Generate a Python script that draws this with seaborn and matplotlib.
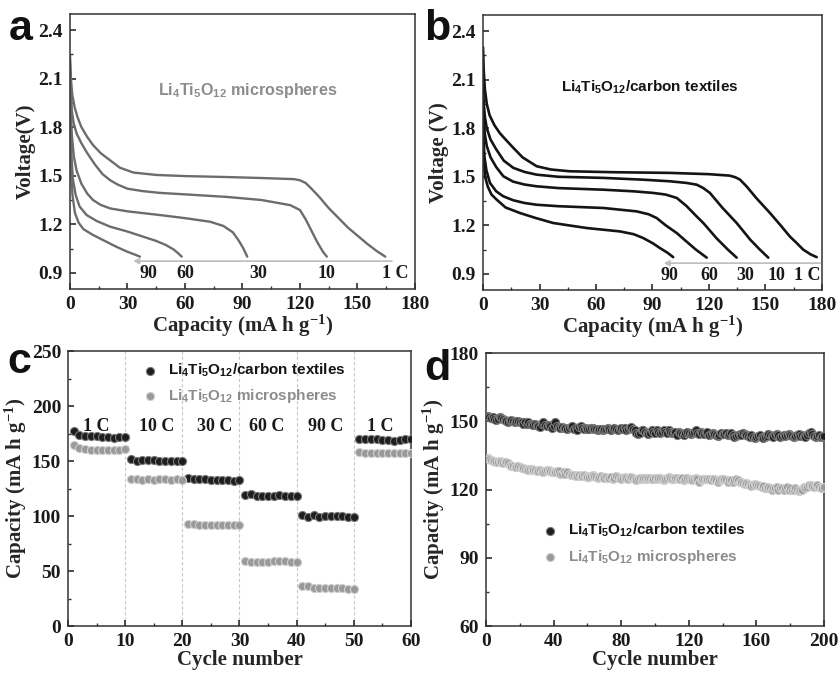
import numpy as np
import pandas as pd
import matplotlib
matplotlib.use("Agg")
import matplotlib.pyplot as plt
from matplotlib.ticker import MultipleLocator
import seaborn as sns

# ---------------- data ----------------
rates = ["1 C", "10 C", "30 C", "60 C", "90 C"]

# Panel a: Li4Ti5O12 microspheres discharge curves
a_cap_1 = [0, 0.5, 1.2, 2.5, 4, 6, 9, 12, 16, 21, 26, 33, 45, 60, 82, 100, 117, 120, 123, 126, 130, 135, 140, 145, 150, 155, 160, 164.5]
a_v_1 = [2.25, 2.10, 2.00, 1.92, 1.86, 1.80, 1.74, 1.69, 1.64, 1.595, 1.55, 1.52, 1.505, 1.498, 1.492, 1.486, 1.479, 1.472, 1.455, 1.42, 1.37, 1.30, 1.24, 1.18, 1.13, 1.08, 1.035, 1.0]
a_cap_10 = [0, 0.5, 1, 2, 3.5, 6, 9, 13, 17, 21, 25, 30, 38, 47, 60, 82, 100, 115, 118, 120, 123, 126, 129, 132, 134]
a_v_10 = [2.2, 2.0, 1.9, 1.82, 1.76, 1.70, 1.64, 1.57, 1.51, 1.472, 1.445, 1.42, 1.405, 1.394, 1.385, 1.369, 1.35, 1.318, 1.30, 1.288, 1.23, 1.16, 1.09, 1.03, 1.0]
a_cap_30 = [0, 0.4, 1, 2, 3.5, 6, 9, 12, 16, 21, 30, 47, 60, 73, 80, 85, 88, 90.5, 92.5]
a_v_30 = [2.1, 1.9, 1.75, 1.62, 1.53, 1.45, 1.39, 1.35, 1.32, 1.298, 1.28, 1.257, 1.238, 1.216, 1.19, 1.15, 1.10, 1.05, 1.0]
a_cap_60 = [0, 0.3, 0.8, 1.5, 3, 5, 8.7, 14, 21, 30, 38, 45, 50, 54, 56.5, 58.3]
a_v_60 = [2.0, 1.8, 1.62, 1.48, 1.38, 1.31, 1.257, 1.22, 1.185, 1.155, 1.124, 1.097, 1.072, 1.045, 1.02, 1.0]
a_cap_90 = [0, 0.3, 0.7, 1.3, 2.6, 4.5, 7, 12, 18, 24, 30, 34, 36.5]
a_v_90 = [1.9, 1.7, 1.52, 1.38, 1.27, 1.21, 1.17, 1.134, 1.098, 1.062, 1.03, 1.012, 1.0]

# Panel b: Li4Ti5O12/carbon textiles discharge curves
b_cap_1 = [0, 0.4, 1, 2, 3.5, 6, 8.9, 12, 16, 21, 28.5, 36, 46, 70, 99, 120, 131, 134, 136.5, 140, 145, 152.4, 158, 163, 166.6, 170, 174, 177.2]
b_v_1 = [2.30, 2.15, 2.04, 1.95, 1.88, 1.82, 1.77, 1.73, 1.68, 1.62, 1.565, 1.545, 1.534, 1.528, 1.524, 1.516, 1.507, 1.497, 1.482, 1.44, 1.37, 1.276, 1.20, 1.13, 1.09, 1.05, 1.02, 1.003]
b_cap_10 = [0, 0.4, 1, 2, 4, 7, 11, 16.1, 22, 28.5, 40, 63.9, 85, 99.3, 108, 113.5, 117, 120.5, 127, 134.7, 142, 147, 151.5]
b_v_10 = [2.08, 1.95, 1.87, 1.80, 1.73, 1.67, 1.60, 1.555, 1.53, 1.513, 1.50, 1.493, 1.482, 1.472, 1.462, 1.451, 1.43, 1.40, 1.31, 1.214, 1.11, 1.05, 1.0]
b_cap_30 = [0, 0.4, 1, 2, 4, 7, 10.8, 16, 22, 28.5, 40, 63.9, 80, 90.4, 97, 102.9, 108, 113, 117, 124, 130, 134.7]
b_v_30 = [1.95, 1.84, 1.76, 1.69, 1.62, 1.56, 1.503, 1.47, 1.452, 1.441, 1.43, 1.42, 1.41, 1.40, 1.39, 1.369, 1.32, 1.26, 1.214, 1.12, 1.05, 1.0]
b_cap_60 = [0, 0.3, 0.8, 1.8, 3.7, 7, 10.8, 16, 22, 28.5, 40, 63.9, 81.6, 88, 92.2, 97, 102.9, 108, 113, 118.8]
b_v_60 = [1.82, 1.72, 1.62, 1.54, 1.462, 1.41, 1.379, 1.355, 1.338, 1.327, 1.318, 1.307, 1.286, 1.268, 1.245, 1.20, 1.152, 1.10, 1.05, 1.0]
b_cap_90 = [0, 0.3, 0.7, 1.06, 2.5, 4.5, 7.3, 12, 19.6, 28, 37.3, 55.1, 72.8, 80, 85.1, 90, 94, 98, 101]
b_v_90 = [1.72, 1.64, 1.56, 1.503, 1.44, 1.39, 1.358, 1.31, 1.276, 1.245, 1.214, 1.183, 1.162, 1.145, 1.121, 1.09, 1.059, 1.03, 1.003]

# end-of-curve rate labels
a_label_text = ["1 C", "10", "30", "60", "90"]
a_label_x = [169.5, 134, 98, 60, 41]
b_label_text = ["1 C", "10", "30", "60", "90"]
b_label_x = [172, 156, 139, 120, 99]

# Panel c: rate capability
c_cycles = list(range(1, 61))
c_textiles = [177, 174, 173, 173, 173, 172, 172, 171, 172, 172,
              152, 150, 151, 151, 151, 150, 150, 150, 150, 150,
              135, 134, 134, 134, 133, 133, 133, 133, 132, 133,
              119, 120, 118, 118, 118, 118, 119, 118, 118, 118,
              101, 99, 101, 99, 100, 100, 100, 100, 99, 99,
              170, 170, 170, 170, 169, 169, 168, 169, 170, 170]
c_micro = [165, 162, 161, 160, 160, 160, 160, 160, 160, 161,
           134, 134, 133, 134, 133, 134, 134, 133, 134, 133,
           93, 93, 92, 92, 92, 92, 92, 92, 92, 92,
           59, 58, 58, 58, 58, 59, 59, 59, 58, 58,
           36, 36, 35, 35, 35, 35, 35, 35, 34, 34,
           158, 157, 157, 157, 157, 157, 157, 157, 157, 157]
c_rate_labels = ["1 C", "10 C", "30 C", "60 C", "90 C", "1 C"]
c_rate_x = [5, 15.5, 25.7, 34.8, 45, 54.7]

# Panel d: cycling at high rate
d_cycles = list(range(1, 201))
d_textiles = [152.5, 152, 151.5, 152, 151, 150.5, 151, 152, 151.5, 151,
              150.5, 150, 149.5, 150, 150.5, 150, 149.5, 150, 150, 149.5,
              149.5, 149, 149.5, 149, 149.5, 149, 149, 148.5, 149, 148.5,
              148, 147.5, 149, 149.5, 148.5, 148, 148.5, 148, 147, 148,
              149.5, 148, 147.5, 147, 147.5, 147, 147, 146.5, 147, 147.5,
              148, 146.5, 147, 146, 147.5, 148, 147, 146.5, 147, 146.5,
              146.5, 147, 147, 146.5, 146.5, 146, 146.5, 146.5, 146, 146.5,
              146.5, 147, 146.5, 146, 146.5, 147, 146.5, 146, 146.5, 147,
              146.5, 147, 146, 146.5, 147, 147.5, 146.5, 146, 145, 144.5,
              145, 146, 146, 145.5, 145, 144.5, 145, 146, 145.5, 145,
              146, 145.5, 145, 145.5, 146, 145.5, 145, 146, 145.5, 145,
              145, 145.5, 144, 145.5, 145, 144.5, 144, 145, 145.5, 145,
              144.5, 145, 145.5, 146, 145, 144.5, 145.5, 145, 144.5, 145,
              145.5, 144, 144.5, 145, 144.5, 144, 143.5, 144, 145, 144.5,
              144.5, 145, 144, 144.5, 145, 144, 143, 143.5, 144, 144.5,
              144, 145, 144.5, 144, 143.5, 143, 144, 143, 142.5, 143,
              143.5, 144, 143, 142.5, 143, 143.5, 144.5, 144, 143.5, 143,
              144, 144.5, 144, 143, 143.5, 144, 143.5, 144, 144.5, 144,
              143.5, 143, 143.5, 144, 144.5, 143.5, 144, 143.5, 143, 144,
              145, 145.5, 144.5, 143.5, 143, 143.5, 144, 143, 143.5, 143.5]
d_micro = [134, 133.5, 133, 132.5, 132.5, 132, 132, 132.5, 132, 131.5,
           132, 132, 131.5, 131, 130.5, 130.5, 130, 130, 130.5, 130,
           129.5, 129.5, 129, 129, 128.5, 129, 129, 128.5, 128.5, 128,
           128, 128.5, 128, 127.5, 128, 128.5, 128.5, 128, 127.5, 127.5,
           127.5, 128, 128, 127, 127, 127.5, 127, 127.5, 127, 126.5,
           126.5, 126.5, 126, 126, 126.5, 126, 126, 126.5, 126, 125.5,
           125.5, 126, 126.5, 126, 125.5, 125, 125.5, 126, 125.5, 125,
           125.5, 125, 125, 125.5, 124.5, 125, 126, 125.5, 125, 124.5,
           125, 125.5, 125, 124.5, 125, 125.5, 125, 124.5, 124, 124.5,
           125, 124.5, 125, 125, 124.5, 125, 125, 124.5, 124.5, 125,
           124.5, 125, 125, 124.5, 124, 124.5, 125, 125.5, 125, 124.5,
           124.5, 125, 125, 124.5, 124.5, 125, 124, 124.5, 125, 124.5,
           124.5, 124, 124.5, 125, 124.5, 123.5, 124, 124.5, 124.5, 124.5,
           124.5, 124.5, 124, 124.5, 124.5, 124, 123.5, 124, 124.5, 124.5,
           124.5, 124, 123.5, 124, 124, 123.5, 124, 124.5, 124, 123.5,
           123.5, 123, 122.5, 123, 122.5, 122, 121.5, 122, 122.5, 122,
           122, 121.5, 121, 121.5, 120.5, 120.5, 121, 120.5, 120, 120.5,
           120.5, 121, 120, 120.5, 120.5, 120, 120.5, 121, 120, 120.5,
           120, 120, 120.5, 120, 119.5, 120, 120, 121, 120.5, 121,
           122, 122, 121.5, 121, 121.5, 122, 121, 120.5, 120.5, 121]

label_textiles = r"Li$_\mathsf{4}$Ti$_\mathsf{5}$O$_\mathsf{12}$/carbon textiles"
label_micro = r"Li$_\mathsf{4}$Ti$_\mathsf{5}$O$_\mathsf{12}$ microspheres"
panel_letters = ["a", "b", "c", "d"]

# ---------------- style ----------------
sns.set_theme(style="ticks")
plt.rcParams.update({
    "font.family": ["Liberation Serif", "DejaVu Serif"],
    "font.weight": "bold",
    "mathtext.fontset": "custom",
    "mathtext.rm": "Liberation Serif:bold",
    "mathtext.sf": "Liberation Sans:bold",
    "mathtext.it": "Liberation Serif:bold",
    "mathtext.bf": "Liberation Serif:bold",
    "axes.edgecolor": "#333333",
    "axes.linewidth": 1.1,
    "xtick.color": "#333333",
    "ytick.color": "#333333",
    "xtick.labelcolor": "#1a1a1a",
    "ytick.labelcolor": "#1a1a1a",
    "xtick.direction": "in",
    "ytick.direction": "in",
    "xtick.major.size": 4,
    "ytick.major.size": 4,
    "xtick.minor.size": 2.5,
    "ytick.minor.size": 2.5,
    "xtick.labelsize": 14,
    "ytick.labelsize": 14,
    "axes.labelsize": 15,
    "axes.labelweight": "bold",
})

SANS = ["Liberation Sans", "DejaVu Sans"]
GREY_LINE = "#6c6c6c"
BLACK_LINE = "#141414"

fig = plt.figure(figsize=(8.39, 6.73), dpi=100)
ax_a = fig.add_axes([0.0834, 0.5706, 0.4112, 0.4086])
ax_b = fig.add_axes([0.5757, 0.5691, 0.4040, 0.4086])
ax_c = fig.add_axes([0.0810, 0.0698, 0.4088, 0.4086])
ax_d = fig.add_axes([0.5793, 0.0698, 0.4029, 0.4056])


def curves_frame(caps, volts):
    frames = []
    for r, c, v in zip(rates, caps, volts):
        frames.append(pd.DataFrame({"cap": c, "volt": v, "rate": r}))
    return pd.concat(frames, ignore_index=True)


df_a = curves_frame([a_cap_1, a_cap_10, a_cap_30, a_cap_60, a_cap_90],
                    [a_v_1, a_v_10, a_v_30, a_v_60, a_v_90])
df_b = curves_frame([b_cap_1, b_cap_10, b_cap_30, b_cap_60, b_cap_90],
                    [b_v_1, b_v_10, b_v_30, b_v_60, b_v_90])


def style_voltage_axis(ax, ylabel):
    ax.set_xlim(0, 180)
    ax.set_ylim(0.8, 2.5)
    ax.xaxis.set_major_locator(MultipleLocator(30))
    ax.xaxis.set_minor_locator(MultipleLocator(15))
    ax.yaxis.set_minor_locator(MultipleLocator(0.15))
    ax.set_yticks([0.9, 1.2, 1.5, 1.8, 2.1, 2.4])
    ax.set_yticklabels(["0.9", "1.2", "1.5", "1.8", "2.1", "2.4"])
    ax.set_xlabel(r"Capacity (mA h g$^{\mathrm{-1}}$)", labelpad=0)
    ax.set_ylabel(ylabel, labelpad=2)
    ax.tick_params(axis="both", which="major", pad=5)


# ---- panel a
sns.lineplot(data=df_a, x="cap", y="volt", units="rate", estimator=None, sort=False,
             color=GREY_LINE, lw=1.7, ax=ax_a, legend=False)
style_voltage_axis(ax_a, "Voltage(V)")
ax_a.annotate("", xy=(33, 0.972), xytext=(168, 0.972),
              arrowprops=dict(arrowstyle="-|>", color="#bdbdbd", lw=1.2,
                              mutation_scale=8, shrinkA=0, shrinkB=0))
for t, x in zip(a_label_text, a_label_x):
    ax_a.text(x, 0.895, t, ha="center", va="center", fontsize=13, color="#1a1a1a")
ax_a.text(93, 2.03, label_micro, ha="center", va="center", color="#8c8c8c",
          fontsize=11.6, family=SANS, fontweight="bold")

# ---- panel b
sns.lineplot(data=df_b, x="cap", y="volt", units="rate", estimator=None, sort=False,
             color=BLACK_LINE, lw=1.9, ax=ax_b, legend=False)
style_voltage_axis(ax_b, "Voltage (V)")
ax_b.annotate("", xy=(96, 0.966), xytext=(179, 0.966),
              arrowprops=dict(arrowstyle="-|>", color="#bdbdbd", lw=1.2,
                              mutation_scale=8, shrinkA=0, shrinkB=0))
for t, x in zip(b_label_text, b_label_x):
    ax_b.text(x, 0.89, t, ha="center", va="center", fontsize=13, color="#1a1a1a")
ax_b.text(88.6, 2.055, label_textiles, ha="center", va="center", color="#141414",
          fontsize=11, family=SANS, fontweight="bold")

# ---- panel c
df_c = pd.DataFrame({"cycle": c_cycles, "textiles": c_textiles, "micro": c_micro})
for xv in [10, 20, 30, 40, 50]:
    ax_c.axvline(xv, color="#c8c8c8", lw=0.8, ls=(0, (3, 2)), zorder=0)
sns.scatterplot(data=df_c, x="cycle", y="textiles", ax=ax_c, s=34, color="#1e1e1e",
                edgecolor="#7a7a7a", linewidth=0.8, label=label_textiles, zorder=3)
sns.scatterplot(data=df_c, x="cycle", y="micro", ax=ax_c, s=34, color="#999999",
                edgecolor="#cfcfcf", linewidth=0.8, label=label_micro, zorder=3)
ax_c.set_xlim(0, 60)
ax_c.set_ylim(0, 250)
ax_c.xaxis.set_major_locator(MultipleLocator(10))
ax_c.xaxis.set_minor_locator(MultipleLocator(5))
ax_c.yaxis.set_major_locator(MultipleLocator(50))
ax_c.yaxis.set_minor_locator(MultipleLocator(25))
ax_c.set_xlabel("Cycle number", labelpad=0)
ax_c.set_ylabel(r"Capacity (mA h g$^{\mathrm{-1}}$)", labelpad=2)
ax_c.tick_params(axis="both", which="major", pad=5)
for t, x in zip(c_rate_labels, c_rate_x):
    ax_c.text(x, 181, t, ha="center", va="center", fontsize=13, color="#1a1a1a")
leg_c = ax_c.legend(loc="upper left", bbox_to_anchor=(0.18, 1.0), frameon=False,
                    prop={"family": SANS, "weight": "bold", "size": 11},
                    handletextpad=0.6, labelspacing=0.55, handlelength=1.2,
                    borderaxespad=0.3)
for txt, col in zip(leg_c.get_texts(), ["#141414", "#8c8c8c"]):
    txt.set_color(col)

# ---- panel d
df_d = pd.DataFrame({"cycle": d_cycles, "textiles": d_textiles, "micro": d_micro})
sns.scatterplot(data=df_d, x="cycle", y="textiles", ax=ax_d, s=34, color="#1e1e1e",
                edgecolor="#7a7a7a", linewidth=0.8, label=label_textiles, zorder=3)
sns.scatterplot(data=df_d, x="cycle", y="micro", ax=ax_d, s=34, color="#999999",
                edgecolor="#cfcfcf", linewidth=0.8, label=label_micro, zorder=3)
ax_d.set_xlim(0, 200)
ax_d.set_ylim(60, 180)
ax_d.xaxis.set_major_locator(MultipleLocator(40))
ax_d.xaxis.set_minor_locator(MultipleLocator(20))
ax_d.yaxis.set_major_locator(MultipleLocator(30))
ax_d.yaxis.set_minor_locator(MultipleLocator(15))
ax_d.set_xlabel("Cycle number", labelpad=0)
ax_d.set_ylabel(r"Capacity (mA h g$^{\mathrm{-1}}$)", labelpad=2)
ax_d.tick_params(axis="both", which="major", pad=5)
leg_d = ax_d.legend(loc="upper left", bbox_to_anchor=(0.13, 0.42), frameon=False,
                    prop={"family": SANS, "weight": "bold", "size": 11},
                    handletextpad=0.6, labelspacing=0.55, handlelength=1.2,
                    borderaxespad=0.3)
for txt, col in zip(leg_d.get_texts(), ["#141414", "#8c8c8c"]):
    txt.set_color(col)

for ax in (ax_a, ax_b, ax_c, ax_d):
    ax.tick_params(which="both", top=False, right=False)
    for sp in ax.spines.values():
        sp.set_visible(True)

# panel letters
for letter, (x, y) in zip(panel_letters, [(0.025, 0.957), (0.521, 0.957), (0.023, 0.462), (0.521, 0.452)]):
    fig.text(x, y, letter, ha="center", va="center", fontsize=31, fontweight="bold",
             family=SANS, color="#111111")

fig.savefig("out.png", dpi=100)
